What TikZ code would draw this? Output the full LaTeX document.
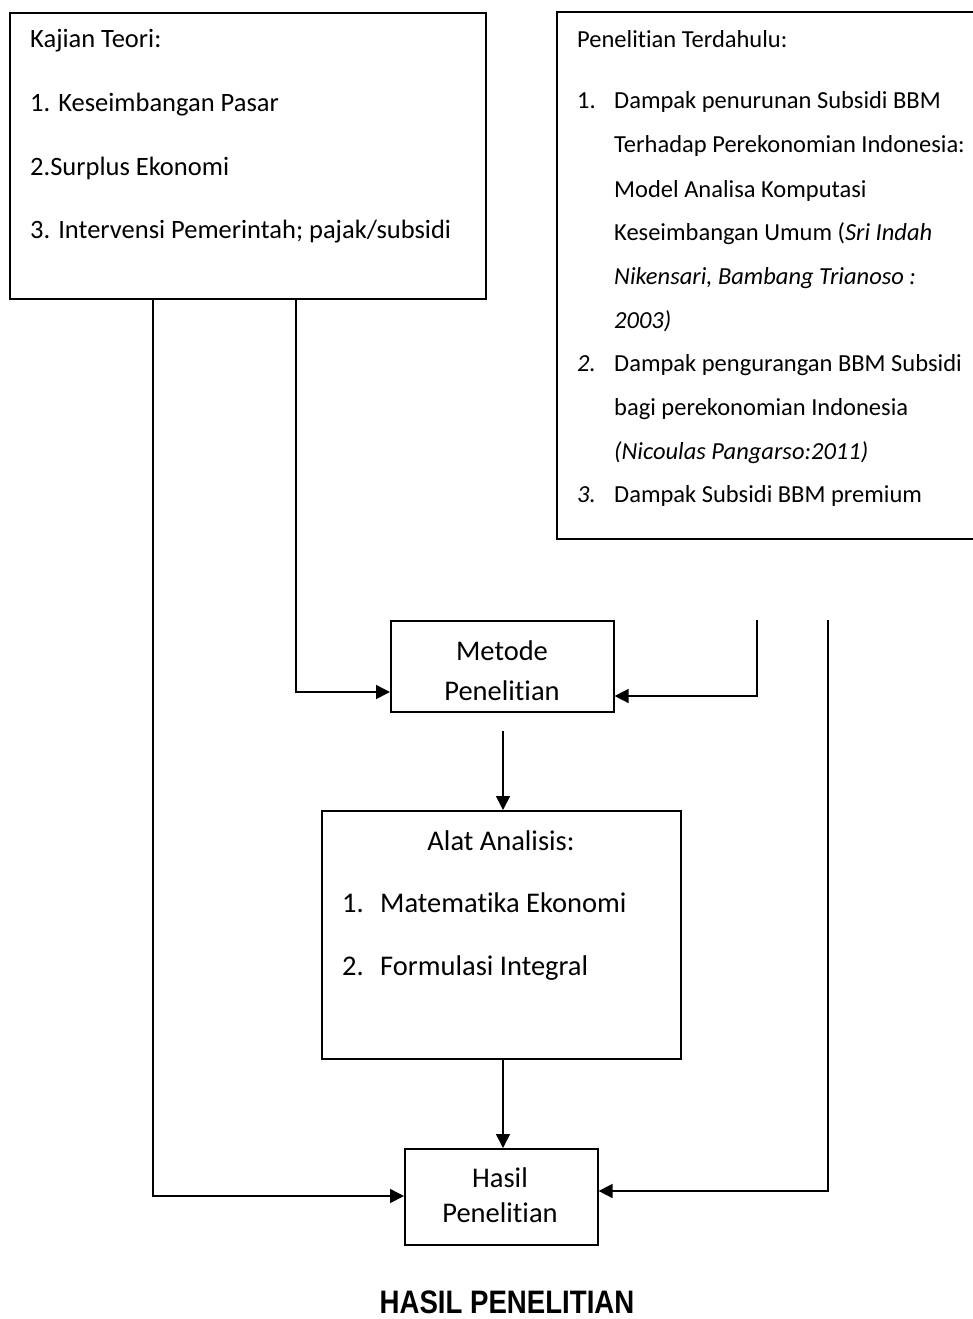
\documentclass[tikz,border=0pt]{standalone}
\usepackage{fontspec}
\setmainfont{Carlito}[Ligatures={NoCommon,NoContextual,NoRare}]
\newfontfamily\titlefont[FakeStretch=0.85]{Liberation Sans}
\usetikzlibrary{arrows.meta,calc}
\tikzset{
  boxnode/.style={draw, line width=1.6pt, inner sep=0pt, anchor=north west},
  txt/.style={anchor=base west, inner sep=0pt},
  ctxt/.style={anchor=base, inner sep=0pt},
  conn/.style={line width=1.6pt},
  arr/.style={line width=1.6pt, -{Triangle[length=14pt,width=14pt]}},
  fL/.style={font=\fontsize{26.5}{32}\selectfont},
  fR/.style={font=\fontsize{24.5}{30}\selectfont},
  fM/.style={font=\fontsize{28.5}{34}\selectfont},
}
\begin{document}
\begin{tikzpicture}[x=1pt,y=-1pt]
\useasboundingbox (0,0) rectangle (972,1319);

% boxes
\node[boxnode, minimum width=476pt, minimum height=286pt] (kt) at (9,12) {};
\node[boxnode, minimum width=430pt, minimum height=527pt] (pt) at (556,11) {};
\node[boxnode, minimum width=223pt, minimum height=91pt] (metode) at (390,620) {};
\node[boxnode, minimum width=359pt, minimum height=248pt] (alat) at (321,810) {};
\node[boxnode, minimum width=193pt, minimum height=96pt] (hasil) at (404,1148) {};

% Kajian Teori
\node[txt,fL] (kt0) at (30,48) {Kajian Teori:};
\node[txt,fL] (kt1) at (30,112) {1. Keseimbangan Pasar};
\node[txt,fL] (kt2) at (30,175) {2.Surplus Ekonomi};
\node[txt,fL] (kt3) at (30,238) {3. Intervensi Pemerintah; pajak/subsidi};

% Penelitian Terdahulu
\node[txt,fR] (pt0) at (577,48) {Penelitian Terdahulu:};
\node[txt,fR] (pn1) at (577,109) {1.};
\node[txt,fR] (pa1) at (614,109) {Dampak penurunan Subsidi BBM};
\node[txt,fR] (pa2) at (614,153) {Terhadap Perekonomian Indonesia:};
\node[txt,fR] (pa3) at (614,197) {Model Analisa Komputasi};
\node[txt,fR] (pa4) at (614,240) {Keseimbangan Umum (\textit{Sri Indah}};
\node[txt,fR] (pa5) at (614,284) {\textit{Nikensari, Bambang Trianoso :}};
\node[txt,fR] (pa6) at (614,328) {\textit{2003)}};
\node[txt,fR] (pn2) at (577,371) {\textit{2.}};
\node[txt,fR] (pb1) at (614,371) {Dampak pengurangan BBM Subsidi};
\node[txt,fR] (pb2) at (614,415) {bagi perekonomian Indonesia};
\node[txt,fR] (pb3) at (614,459) {\textit{(Nicoulas Pangarso:2011)}};
\node[txt,fR] (pn3) at (577,502) {\textit{3.}};
\node[txt,fR] (pc1) at (614,502) {Dampak Subsidi BBM premium};

% Metode
\node[ctxt,fM] (mt1) at (502,660) {Metode};
\node[ctxt,fM] (mt2) at (502,700) {Penelitian};

% Alat Analisis
\node[ctxt,fM] (al0) at (501,850) {Alat Analisis:};
\node[txt,fM] (aln1) at (342,912) {1.};
\node[txt,fM] (al1) at (380,912) {Matematika Ekonomi};
\node[txt,fM] (aln2) at (342,975) {2.};
\node[txt,fM] (al2) at (380,975) {Formulasi Integral};

% Hasil
\node[ctxt,fM] (hs1) at (500,1187) {Hasil};
\node[ctxt,fM] (hs2) at (500,1222) {Penelitian};

% Title
\node[ctxt,font=\titlefont\bfseries\fontsize{32.5}{38}\selectfont] (title) at (507,1313) {HASIL PENELITIAN};

% connectors
\coordinate (l1) at (153,1196);
\coordinate (l2) at (296,692);
\coordinate (r1t) at (757,620);
\coordinate (r1b) at (757,696);
\coordinate (r2t) at (828,620);
\coordinate (r2b) at (828,1191);
\coordinate (m1) at (503,731);

\draw[arr] (kt.south -| l1) -- (l1) -- (hasil.west |- l1);
\draw[arr] (kt.south -| l2) -- (l2) -- (metode.west |- l2);
\draw[arr] (r1t) -- (r1b) -- (metode.east |- r1b);
\draw[arr] (r2t) -- (r2b) -- (hasil.east |- r2b);
\draw[arr] (m1) -- (alat.north -| m1);
\draw[arr] (alat.south -| m1) -- (hasil.north -| m1);
\end{tikzpicture}
\end{document}
